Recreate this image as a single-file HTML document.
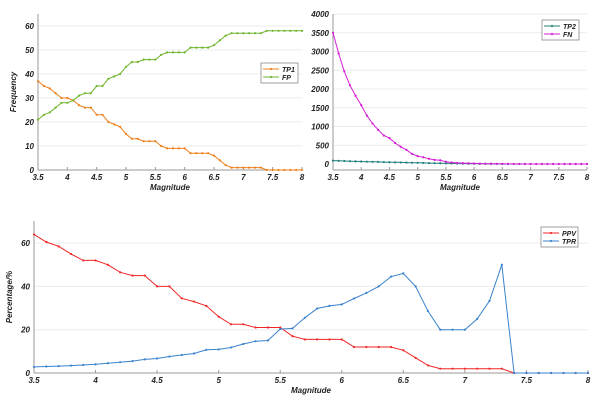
<!DOCTYPE html>
<html><head><meta charset="utf-8"><style>
html,body{margin:0;padding:0;background:#fff;}
svg text{font-family:"Liberation Sans",Arial,sans-serif;font-weight:bold;font-style:italic;font-size:8px;fill:#222;}
</style></head><body>
<svg id="root" width="600" height="407" xmlns="http://www.w3.org/2000/svg"></svg>
<script>
const mags = [];
for (let i = 0; i <= 45; i++) mags.push(+(3.5 + i * 0.1).toFixed(1));
const tp1 = [37,35,34,32,30,30,29,27,26,26,23,23,20,19,18,15,13,13,12,12,12,10,9,9,9,9,7,7,7,7,6,4,2,1,1,1,1,1,1,0,0,0,0,0,0,0];
const fp = [21,23,24,26,28,28,29,31,32,32,35,35,38,39,40,43,45,45,46,46,46,48,49,49,49,49,51,51,51,51,52,54,56,57,57,57,57,57,57,58,58,58,58,58,58,58];
const tp2 = [90,85,80,75,70,66,62,58,55,52,48,45,42,38,35,32,28,25,22,20,17,15,12,10,8,6,5,4,3,2,1,1,1,0,0,0,0,0,0,0,0,0,0,0,0,0];
const fn = [3500,2950,2470,2100,1820,1570,1290,1080,910,760,690,560,460,380,270,210,180,140,110,100,60,40,30,25,20,15,10,8,6,5,4,3,2,2,1,1,1,1,1,0,0,0,0,0,0,0];
const ppv = [64,60.5,58.5,55,52,52,50,46.5,45,45,40,40,34.5,33,31,26,22.5,22.5,21,21,21,17,15.5,15.5,15.5,15.5,12,12,12,12,10.5,7,3.5,2,2,2,2,2,2,0,0,0,0,0,0,0];
const tpr = [2.8,3,3.2,3.4,3.7,4,4.5,5,5.5,6.3,6.7,7.6,8.3,9,10.7,10.9,11.8,13.4,14.7,15,20.3,20.6,25.5,29.8,31,31.7,34.4,37,40,44.5,46,40,28.6,20,20,20,25,33.3,50,0,0,0,0,0,0,0];
const xTicks = [3.5,4,4.5,5,5.5,6,6.5,7,7.5,8];
const yTicks1 = [0,10,20,30,40,50,60];
const yTicks2 = [0,500,1000,1500,2000,2500,3000,3500,4000];
const yTicks3 = [0,20,40,60];

const NS = "http://www.w3.org/2000/svg";
const root = document.getElementById('root');
function mk(tag, attrs, parent, txt) {
  const e = document.createElementNS(NS, tag);
  for (const k in attrs) e.setAttribute(k, attrs[k]);
  if (txt !== undefined) e.textContent = txt;
  (parent || root).appendChild(e);
  return e;
}

function chart(cfg) {
  const g = mk('g', {});
  
  
  const sx = v => cfg.L + (v - 3.5) / 4.5 * (cfg.R - cfg.L);
  const sy = v => cfg.y0 - (v - cfg.ymin0) * cfg.k;
  // grid
  cfg.yt.forEach(t => {
    if (t !== 0) { const gl = mk('line', {x1: cfg.L, x2: cfg.R, y1: sy(t), y2: sy(t), stroke: '#ececec', 'stroke-width': 1}, g);
        }
    const lb = mk('text', {x: cfg.L - 4, y: sy(t) + 3, 'text-anchor': 'end'}, g, t);
     
  });
  mk('line', {x1: cfg.L, x2: cfg.L, y1: cfg.T, y2: cfg.B, stroke: '#999', 'stroke-width': 1}, g);
  mk('line', {x1: cfg.L, x2: cfg.R, y1: cfg.B, y2: cfg.B, stroke: '#999', 'stroke-width': 1}, g);
  xTicks.forEach(t => {
    mk('line', {x1: sx(t), x2: sx(t), y1: cfg.B, y2: cfg.B - 3, stroke: '#999'}, g);
    const lb = mk('text', {x: sx(t), y: cfg.B + 10, 'text-anchor': 'middle'}, g, t);
     
  });
  const xt = mk('text', {x: (cfg.L + cfg.R) / 2, y: cfg.B + 20, 'text-anchor': 'middle'}, g, 'Magnitude');
   
  if (cfg.ylabel) {
    const yt = mk('text', {x: 0, y: 0, 'text-anchor': 'middle', transform: `translate(${cfg.L - 22},${(cfg.T + cfg.B) / 2}) rotate(-90)`}, g, cfg.ylabel);
     
  }
  cfg.series.forEach(s => {
    const pts = s.data.map((v, i) => sx(mags[i]).toFixed(1) + ',' + sy(v).toFixed(1)).join(' ');
    const pl = mk('polyline', {points: pts, fill: 'none', stroke: s.color, 'stroke-width': 1}, g);
    
    
    s.data.forEach((v, i) => {
      const c = mk('circle', {cx: sx(mags[i]), cy: sy(v), r: 1.1, fill: s.color}, g);
      
      
    });
  });
  const lg = mk('g', {}, g);
  
  
  mk('rect', {x: cfg.lx, y: cfg.ly, width: 37, height: 20, fill: '#fff', stroke: '#888', 'stroke-width': 0.8}, lg);
  cfg.series.forEach((s, i) => {
    const y = cfg.ly + 6 + i * 8;
    mk('line', {x1: cfg.lx + 2, x2: cfg.lx + 18, y1: y, y2: y, stroke: s.color}, lg);
    mk('circle', {cx: cfg.lx + 10, cy: y, r: 1.1, fill: s.color}, lg);
    const t = mk('text', {x: cfg.lx + 21, y: y + 3, style: 'font-size:7px'}, lg, s.label);
    
    
  });
}

chart({name: 'tp1-fp-chart', L: 38, R: 302, T: 14, B: 170, y0: 170, ymin0: 0, k: 2.4, yt: yTicks1, ylabel: 'Frequency',
  lx: 261, ly: 63, series: [{label: 'TP1', data: tp1, color: '#ee7f1a'}, {label: 'FP', data: fp, color: '#6fb52c'}]});
chart({name: 'tp2-fn-chart', L: 333, R: 587, T: 14, B: 170, y0: 164, ymin0: 0, k: 0.0375, yt: yTicks2, ylabel: null,
  lx: 542, ly: 20, series: [{label: 'TP2', data: tp2, color: '#1f7f7a'}, {label: 'FN', data: fn, color: '#d51fd5'}]});
chart({name: 'ppv-tpr-chart', L: 34, R: 588, T: 221, B: 373, y0: 373, ymin0: 0, k: 2.165, yt: yTicks3, ylabel: 'Percentage/%',
  lx: 541, ly: 227, series: [{label: 'PPV', data: ppv, color: '#f02626'}, {label: 'TPR', data: tpr, color: '#3a82cc'}]});
</script>
</body></html>
